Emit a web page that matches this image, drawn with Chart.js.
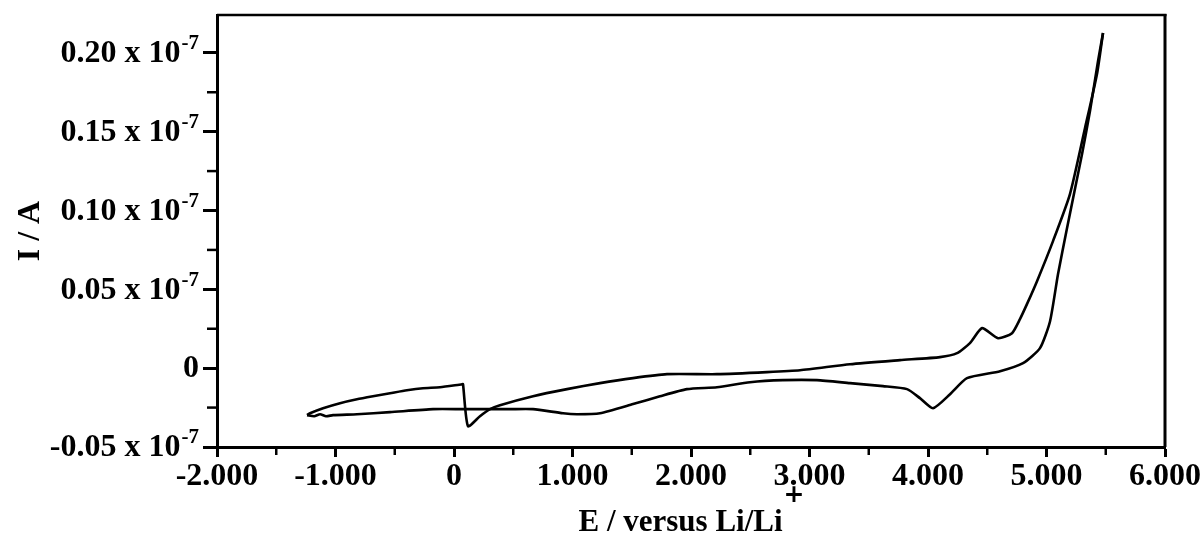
<!DOCTYPE html>
<html><head><meta charset="utf-8">
<script src="https://cdn.jsdelivr.net/npm/chart.js@4.4.1/dist/chart.umd.min.js"></script>
<style>html,body{margin:0;padding:0;background:#fff}#wrap{width:1204px;height:539px;position:relative}</style>
</head><body><div id="wrap"><canvas id="c"></canvas></div>
<script>
const FONT = '"Liberation Serif","Times New Roman",serif';

// tick values / labels
const xTickValues = [-2, -1, 0, 1, 2, 3, 4, 5, 6];
const xTickLabels = ['-2.000', '-1.000', '0', '1.000', '2.000', '3.000', '4.000', '5.000', '6.000'];
const xMinorTicks = [-1.5, -0.5, 0.5, 1.5, 2.5, 3.5, 4.5, 5.5];
const yTickValues = [-0.05, 0, 0.05, 0.10, 0.15, 0.20];
const yTickLabels = ['-0.05 x 10', '0', '0.05 x 10', '0.10 x 10', '0.15 x 10', '0.20 x 10'];
const yTickExponents = ['-7', '', '-7', '-7', '-7', '-7'];
const yMinorTicks = [-0.025, 0.025, 0.075, 0.125, 0.175];
const xTitle = 'E / versus Li/Li';
const xTitleSup = '+';
const yTitle = 'I / A';

// branch A: from left vertex, over the jump near 0.1 V, up to the top vertex (E in V, I in 1e-7 A)
const branchA_E = [-1.240, -1.215, -1.105, -0.962, -0.819, -0.684, -0.540, -0.397, -0.262, -0.118, 0.068, 0.076, 0.118, 0.219, 0.304, 0.388, 0.667, 0.954, 1.232, 1.511, 1.797, 2.219, 2.641, 2.920, 3.342, 3.764, 4.101, 4.245, 4.354, 4.456, 4.591, 4.709, 4.776, 4.835, 4.920, 5.055, 5.198, 5.325, 5.426, 5.477];
const branchA_I = [-0.0298, -0.0286, -0.0254, -0.0222, -0.0197, -0.0178, -0.0159, -0.0140, -0.0127, -0.0121, -0.0102, -0.0102, -0.0368, -0.0305, -0.0260, -0.0235, -0.0178, -0.0133, -0.0095, -0.0063, -0.0038, -0.0038, -0.0025, -0.0013, 0.0025, 0.0051, 0.0070, 0.0095, 0.0159, 0.0254, 0.0190, 0.0222, 0.0311, 0.0406, 0.0552, 0.0806, 0.1104, 0.1523, 0.1865, 0.2126];
// branch B: from the top vertex back down to the left vertex
const branchB_E = [5.477, 5.435, 5.367, 5.300, 5.173, 5.097, 5.030, 4.945, 4.802, 4.608, 4.329, 4.186, 4.042, 3.932, 3.823, 3.620, 3.342, 3.063, 2.776, 2.498, 2.219, 1.966, 1.738, 1.511, 1.232, 1.038, 0.920, 0.667, 0.473, 0.076, -0.177, -0.540, -0.819, -1.021, -1.080, -1.130, -1.180, -1.240];
const branchB_I = [0.2126, 0.1948, 0.1631, 0.1358, 0.0888, 0.0596, 0.0298, 0.0127, 0.0032, -0.0019, -0.0063, -0.0165, -0.0254, -0.0190, -0.0133, -0.0114, -0.0095, -0.0076, -0.0076, -0.0089, -0.0121, -0.0133, -0.0178, -0.0228, -0.0286, -0.0292, -0.0286, -0.0260, -0.0260, -0.0260, -0.0260, -0.0279, -0.0292, -0.0298, -0.0305, -0.0292, -0.0305, -0.0298];

const toPts = (xs, ys) => xs.map((x, i) => ({x: x, y: ys[i]}));

const decor = {
  id: 'decor',
  afterDraw(chart) {
    const ctx = chart.ctx, ca = chart.chartArea, xs = chart.scales.x, ys = chart.scales.y;
    ctx.save();
    ctx.strokeStyle = '#000';
    ctx.lineWidth = 2.5;
    ctx.beginPath(); ctx.moveTo(ca.left, ca.top); ctx.lineTo(ca.right + 1.5, ca.top); ctx.stroke();
    ctx.lineWidth = 3;
    ctx.beginPath(); ctx.moveTo(ca.right, ca.top - 1); ctx.lineTo(ca.right, ca.bottom); ctx.stroke();
    ctx.lineWidth = 2.5;
    xMinorTicks.forEach(v => { const px = xs.getPixelForValue(v); ctx.beginPath(); ctx.moveTo(px, ca.bottom); ctx.lineTo(px, ca.bottom + 8); ctx.stroke(); });
    yMinorTicks.forEach(v => { const py = ys.getPixelForValue(v); ctx.beginPath(); ctx.moveTo(ca.left, py); ctx.lineTo(ca.left - 10, py); ctx.stroke(); });
    ctx.fillStyle = '#000';
    ctx.textBaseline = 'middle';
    const R = ca.left - 18;
    yTickValues.forEach((v, i) => {
      const py = ys.getPixelForValue(v);
      let x = R;
      const sup = yTickExponents[i];
      if (sup) {
        ctx.font = 'bold 21px ' + FONT;
        const w = ctx.measureText(sup).width;
        ctx.textAlign = 'left';
        ctx.fillText(sup, R - w, py - 9);
        x = R - w - 1;
      }
      ctx.font = 'bold 32px ' + FONT;
      ctx.textAlign = 'right';
      ctx.fillText(yTickLabels[i], x, py + 1);
    });
    // x title with superscript
    ctx.font = 'bold 31px ' + FONT;
    const w1 = ctx.measureText(xTitle).width;
    ctx.font = 'bold 25px "DejaVu Sans",sans-serif';
    const w2 = ctx.measureText(xTitleSup).width;
    const cx = (ca.left + ca.right) / 2;
    const sx = cx - (w1 + w2) / 2;
    ctx.textAlign = 'left';
    ctx.textBaseline = 'alphabetic';
    ctx.font = 'bold 31px ' + FONT;
    ctx.fillText(xTitle, sx, 531);
    ctx.font = 'bold 25px "DejaVu Sans",sans-serif';
    ctx.fillText(xTitleSup, sx + w1 + 1, 502);
    ctx.restore();
  }
};

new Chart(document.getElementById('c'), {
  type: 'scatter',
  data: {
    datasets: [
      {data: toPts(branchA_E, branchA_I), showLine: true, borderColor: '#000', borderWidth: 2.6, pointRadius: 0, tension: 0.2, fill: false},
      {data: toPts(branchB_E, branchB_I), showLine: true, borderColor: '#000', borderWidth: 2.6, pointRadius: 0, tension: 0.2, fill: false}
    ]
  },
  options: {
    responsive: true,
    maintainAspectRatio: false,
    animation: false,
    events: [],
    layout: {padding: {top: 15, right: 39, left: 0, bottom: 0}},
    plugins: {legend: {display: false}, tooltip: {enabled: false}, title: {display: false}},
    scales: {
      x: {
        type: 'linear', min: -2, max: 6,
        afterBuildTicks: s => { s.ticks = xTickValues.map(v => ({value: v})); },
        afterFit: s => { s.height = 92; },
        ticks: {
          autoSkip: false, maxRotation: 0, minRotation: 0, padding: 1, color: '#000',
          font: {family: FONT, size: 32, weight: 'bold'},
          callback: (v) => { const i = xTickValues.indexOf(v); return i >= 0 ? xTickLabels[i] : ''; }
        },
        grid: {display: true, drawOnChartArea: false, drawTicks: true, tickLength: 10, tickWidth: 3, tickColor: '#000'},
        border: {display: true, width: 3, color: '#000'}
      },
      y: {
        type: 'linear', min: -0.05, max: 0.224,
        afterBuildTicks: s => { s.ticks = yTickValues.map(v => ({value: v})); },
        afterFit: s => { s.width = 217; },
        ticks: {display: false},
        grid: {display: true, drawOnChartArea: false, drawTicks: true, tickLength: 14, tickWidth: 3, tickColor: '#000'},
        border: {display: true, width: 3, color: '#000'},
        title: {display: true, text: yTitle, color: '#000', font: {family: FONT, size: 32, weight: 'bold'}, padding: {top: 12, bottom: 0}}
      }
    }
  },
  plugins: [decor]
});
</script></body></html>
